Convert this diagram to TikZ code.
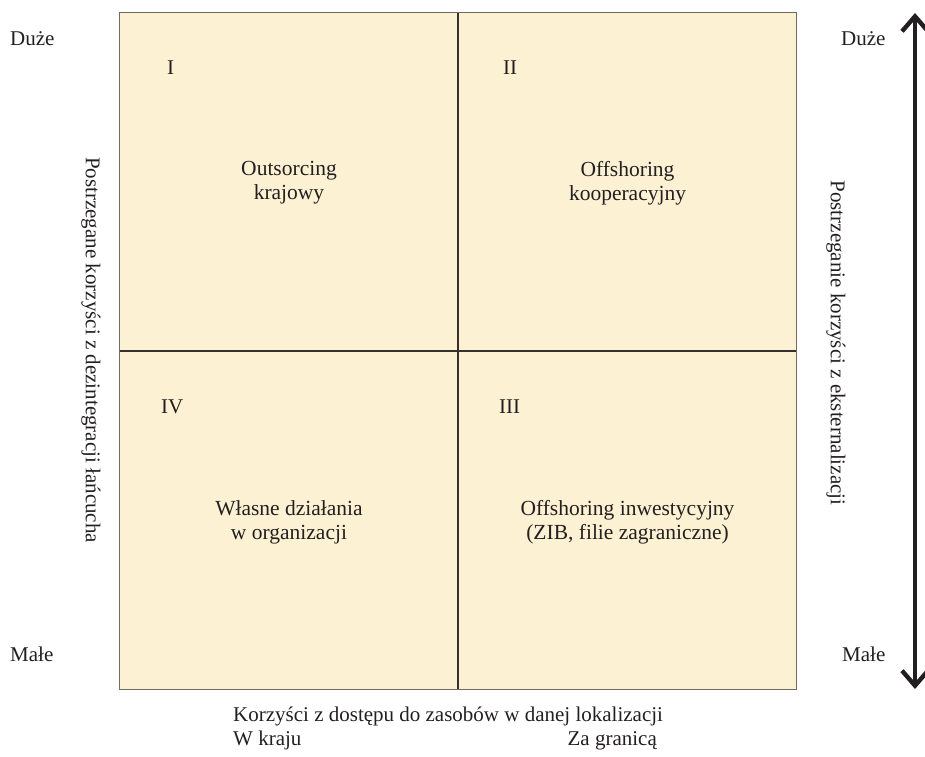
\documentclass[tikz,border=0pt]{standalone}
\usepackage{fontspec}
\setmainfont{Liberation Serif}
\usetikzlibrary{arrows.meta}
\definecolor{cellfill}{HTML}{FDF1D3}
\definecolor{framegray}{HTML}{6E6A64}
\definecolor{divider}{HTML}{35302B}
\definecolor{ink}{HTML}{231F20}
\begin{document}
\begin{tikzpicture}[x=1pt,y=-1pt,
  txt/.style={font=\fontsize{21}{24}\selectfont, text=ink, inner sep=0pt},
  lbl/.style={txt, anchor=base west},
  quad/.style={txt, font=\fontsize{21.5}{24}\selectfont, align=center, anchor=center},
  sidelbl/.style={font=\fontsize{21}{24}\selectfont, text=ink, inner sep=0pt, rotate=-90, anchor=center},
  cell/.style={draw=none, fill=cellfill, minimum width=338pt, minimum height=338pt, inner sep=0pt, anchor=center},
  axisarrow/.style={line width=4.4pt, draw=ink, {Straight Barb[length=15pt,width=26pt]}-{Straight Barb[length=15pt,width=26pt]}}
]
\useasboundingbox (0,0) rectangle (925,756);

% four quadrant cells
\node[cell] (q1) at (289,182) {};
\node[cell] (q2) at (627.5,182) {};
\node[cell] (q4) at (289,520) {};
\node[cell] (q3) at (627.5,520) {};

% dividers and frame
\draw[divider, line width=1.8pt] (q1.north east) -- (q4.south east);
\draw[divider, line width=1.8pt] (q1.south west) -- (q2.south east);
\draw[framegray, line width=1.3pt] (q1.north west) rectangle (q3.south east);

% roman numerals
\node[lbl] (n1) at (167,74) {I};
\node[lbl] (n2) at (503,74) {II};
\node[lbl] (n4) at (161,413) {IV};
\node[lbl] (n3) at (499,413) {III};

% quadrant contents
\node[quad] (t1) at (289,183) {Outsorcing\\krajowy};
\node[quad] (t2) at (627.5,183) {Offshoring\\kooperacyjny};
\node[quad] (t4) at (289,522) {Własne działania\\w organizacji};
\node[quad] (t3) at (627.5,522) {Offshoring inwestycyjny\\(ZIB, filie zagraniczne)};

% scale ends
\node[lbl] (dl) at (10,45) {Duże};
\node[lbl] (ml) at (10,661) {Małe};
\node[lbl] (dr) at (841,45) {Duże};
\node[lbl] (mr) at (842,661) {Małe};

% vertical axis titles
\node[sidelbl] (yl) at (91,350) {Postrzegane korzyści z dezintegracji łańcucha};
\node[sidelbl] (yr) at (836,343) {Postrzeganie korzyści z eksternalizacji};

% double-headed scale arrow
\coordinate (atop) at (915,13);
\coordinate (abot) at (915,689);
\draw[axisarrow] (atop) -- (abot);

% horizontal axis title and its ends
\node[lbl] (xt) at (233,721) {Korzyści z dostępu do zasobów w danej lokalizacji};
\node[lbl] (xl) at (233,745) {W kraju};
\node[txt, anchor=base east] (xr) at (657,745) {Za granicą};
\end{tikzpicture}
\end{document}
